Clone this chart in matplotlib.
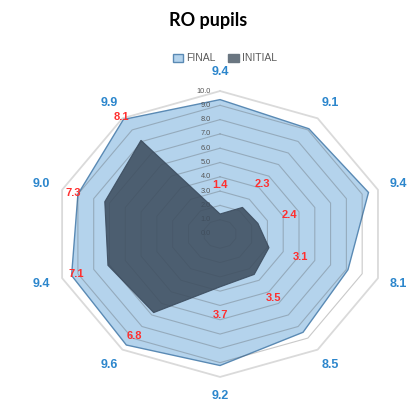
import numpy as np
import matplotlib.pyplot as plt
from matplotlib.patches import Patch

# data (clockwise from the top axis)
final = [9.4, 9.1, 9.4, 8.1, 8.5, 9.2, 9.6, 9.4, 9.0, 9.9]
initial = [1.4, 2.3, 2.4, 3.1, 3.5, 3.7, 6.8, 7.1, 7.3, 8.1]
point_labels = ['9.4', '9.1', '9.4', '8.1', '8.5', '9.2', '9.6', '9.4', '9.0', '9.9']
ticks = [0, 1, 2, 3, 4, 5, 6, 7, 8, 9, 10]

c_final = '#b4d3ec'
c_final_edge = '#5a8ab4'
c_init = '#3d4d5e'
c_blue_txt = '#2c86cc'
c_red_txt = '#ff2f2f'

n = len(final)
angles = np.linspace(0, 2 * np.pi, n, endpoint=False)
ang_c = np.append(angles, angles[0])
final_c = final + final[:1]
init_c = initial + initial[:1]

fig = plt.figure(figsize=(4.09, 4.01), dpi=100)
ax = fig.add_axes([0.132, 0.060, 0.812, 0.713], projection='polar')
ax.set_aspect('auto')
ax.set_theta_offset(np.pi / 2)
ax.set_theta_direction(-1)
ax.set_ylim(0, 10)
ax.set_xticks([])
ax.set_yticks([])
ax.grid(False)
ax.spines['polar'].set_visible(False)
ax.patch.set_visible(False)

# grid rings (decagons)
for v in ticks[1:]:
    if v == ticks[-1]:
        ax.plot(ang_c, [v] * (n + 1), color='#dadada', lw=1.3, zorder=0, clip_on=False)
    else:
        ax.plot(ang_c, [v] * (n + 1), color=(0.3, 0.3, 0.3, 0.3), lw=0.8, zorder=2, clip_on=False)

# series
ax.fill(ang_c, final_c, facecolor=c_final, edgecolor=c_final_edge, lw=1, zorder=1, clip_on=False)
ax.fill(ang_c, init_c, facecolor=c_init, edgecolor='#3a4a5c', lw=0.8, alpha=0.87,
        zorder=4, clip_on=False)

# tick labels on the top axis (under the dark series)
for v in ticks:
    ax.annotate(f'{v:.1f}', xy=(0, v), xytext=(-6.5, 0), textcoords='offset points',
                ha='right', va='center', fontsize=5.3, color='#555555', zorder=3,
                family='Liberation Sans')

# point labels (blue) and initial values (red)
for a, lab in zip(angles, point_labels):
    ax.text(a, 11.3, lab, ha='center', va='center', fontsize=9, fontweight='bold',
            color=c_blue_txt, family='Liberation Sans')
for a, v in zip(angles, initial):
    ax.text(a, v + 2.0, f'{v:.1f}', ha='center', va='center', fontsize=8, fontweight='bold',
            color=c_red_txt, family='Liberation Sans', zorder=6)

# legend
handles = [Patch(facecolor=c_final, edgecolor=c_final_edge, label='FINAL'),
           Patch(facecolor='#6a7681', edgecolor='#6a7681', label='INITIAL')]
fig.legend(handles=handles, loc='center', bbox_to_anchor=(0.55, 0.855), ncol=2,
           frameon=False, prop={'family': 'Liberation Sans', 'size': 7.5}, labelcolor='#5a5a5a',
           handlelength=1.0, handleheight=0.8, handletextpad=0.3, columnspacing=1.2)

fig.text(0.508, 0.95, 'RO pupils', ha='center', va='center', fontsize=13,
         fontweight='bold', family='Lato')

fig.savefig('out.png', dpi=100)
